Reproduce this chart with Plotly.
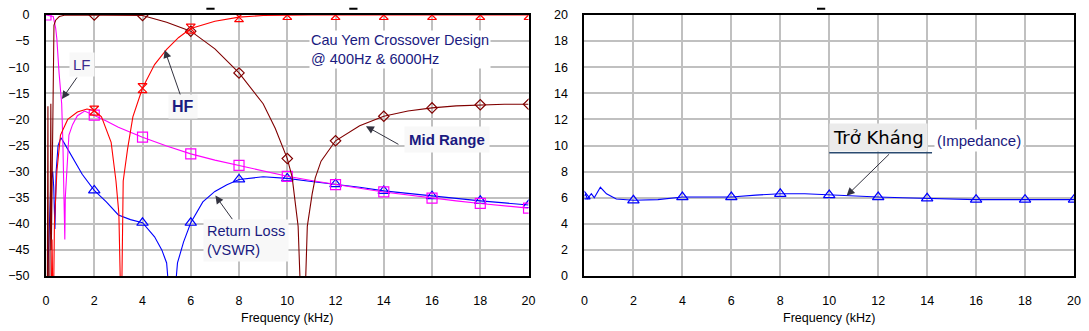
import plotly.graph_objects as go

# ---------------- data ----------------
# Left panel: crossover transfer (dB) vs frequency (kHz)
HF_f = [0, 0.2, 0.25, 0.28, 0.3, 0.35, 0.45, 0.6, 0.9, 1.3, 1.7, 2, 2.3, 2.7, 2.9, 3.02, 3.12,
        3.2, 3.38, 3.6, 4, 4.5, 5, 5.5, 6, 7, 8, 9, 10, 11, 12, 13, 14, 15, 16, 17, 18, 19, 20]
HF_db = [-60, -60, -43, -55, -60, -40, -30, -23, -20, -18.6, -18, -18.3, -19.5, -24.4, -31.8, -38, -60,
         -31.8, -25.7, -19.5, -14, -9.5, -6.6, -4.3, -2.6, -1.2, -0.4, -0.1, 0, 0, 0, 0, 0, 0, 0, 0, 0, 0, 0]

MID_f = [0, 0.05, 0.08, 0.1, 0.15, 0.2, 0.22, 0.26, 0.3, 0.33, 0.4, 0.55, 0.8, 1, 2, 3, 4, 5, 6, 7, 8,
         9, 9.5, 10, 10.2, 10.45, 10.6, 10.7, 10.83, 11.03, 11.16, 11.4, 12, 13, 14, 15, 16, 17, 18, 19, 20]
MID_db = [-60, -60, -17.5, -60, -60, -17, -45, -25, -10, -2, -1, -0.3, 0, 0, 0, 0, -0.1, -1.4, -3.1, -6.5, -11.1,
          -17, -21.7, -27.5, -31, -40.5, -60, -60, -40.5, -34.3, -31.2, -28, -24.1, -21.2, -19.4, -18.4, -17.8,
          -17.4, -17.2, -17.1, -17.1]

LF_f = [0, 0.3, 0.4, 0.45, 0.54, 0.65, 0.7, 0.75, 0.78, 0.8, 0.85, 0.9, 0.92, 0.95, 1.1, 1.3, 1.6, 2, 2.5, 3,
        4, 5, 6, 7, 8, 9, 10, 11, 12, 13, 14, 15, 16, 17, 18, 19, 20]
LF_db = [0, -0.3, -2.5, -4.6, -11, -17, -24.5, -33, -43, -35, -30, -27, -25, -23, -21, -19.3, -18.4, -19.2,
         -20.3, -21.5, -23.4, -25.1, -26.6, -27.8, -28.8, -29.9, -30.9, -31.7, -32.5, -33.2, -33.9, -34.5,
         -35.1, -35.6, -36.1, -36.5, -37]

RL_f = [0, 0.1, 0.15, 0.2, 0.28, 0.32, 0.37, 0.42, 0.5, 0.62, 0.75, 1, 1.2, 1.5, 2, 2.5, 3, 3.5, 4, 4.5,
        4.8, 5, 5.22, 5.45, 5.7, 6, 6.5, 7, 7.5, 8, 9, 10, 11, 12, 13, 14, 15, 16, 17, 18, 19, 20]
RL_db = [-60, -43.5, -36, -32, -30, -33, -41, -30, -25, -23.5, -24.5, -26.5, -28.3, -30.5, -33.6, -35.8,
         -38.3, -39.2, -39.8, -42.5, -45, -47.5, -60, -47.5, -43.5, -39.8, -35.8, -33.8, -32.5, -31.5, -31,
         -31.3, -31.9, -32.4, -33, -33.7, -34.2, -34.7, -35.2, -35.6, -36, -36.4]

# Right panel: impedance (ohm) vs frequency (kHz)
Z_f = [0, 0.04, 0.12, 0.2, 0.28, 0.4, 0.65, 0.9, 1.3, 2, 3, 4, 5, 6, 7, 8, 9, 10, 11, 12, 13, 14, 16, 18, 20]
Z_ohm = [6.1, 6.3, 5.9, 6.1, 6.3, 6.0, 6.8, 6.3, 5.9, 5.8, 5.85, 6.05, 6.05, 6.05, 6.2, 6.3, 6.3, 6.2, 6.1,
         6.05, 6.0, 5.95, 5.85, 5.85, 5.85]

X_TICKS = list(range(0, 21, 2))
Y1_TICKS = list(range(-50, 1, 5))
Y2_TICKS = list(range(0, 21, 2))

FONT = "Arial, Liberation Sans, sans-serif"
NAVY = "#1a1a80"

fig = go.Figure()


def add_series(f, v, color, symbol, msize, xa, ya):
    fig.add_trace(go.Scatter(x=f, y=v, mode="lines", line=dict(color=color, width=1.1),
                             xaxis=xa, yaxis=ya, showlegend=False, hoverinfo="skip"))
    mf = [a for a in f if a % 2 == 0]
    mv = [b for a, b in zip(f, v) if a % 2 == 0]
    fig.add_trace(go.Scatter(x=mf, y=mv, mode="markers",
                             marker=dict(symbol=symbol, size=msize, color=color,
                                         line=dict(color=color, width=1.2)),
                             xaxis=xa, yaxis=ya, showlegend=False, hoverinfo="skip"))


add_series(RL_f, RL_db, "#0000ff", "triangle-up-open", 10, "x", "y")
add_series(LF_f, LF_db, "#ff00ff", "square-open", 10, "x", "y")
add_series(MID_f, MID_db, "#800000", "diamond-open", 8, "x", "y")
add_series(HF_f, HF_db, "#ff0000", "hourglass-open", 9, "x", "y")
add_series(Z_f, Z_ohm, "#0000ff", "triangle-up-open", 10, "x2", "y2")

axis_common = dict(showgrid=True, gridcolor="#c0c0c0", gridwidth=1.5, zeroline=False,
                   showline=True, linecolor="black", linewidth=2, mirror=True,
                   ticks="", tickfont=dict(family=FONT, size=12.5, color="black"))

fig.update_layout(
    width=1089, height=331,
    margin=dict(l=45, r=13, t=8, b=53),
    paper_bgcolor="white", plot_bgcolor="white",
    font=dict(family=FONT, color="black"),
    xaxis=dict(domain=[0, 0.4694], range=[0, 20], tickvals=X_TICKS, ticklabelstandoff=12,
               title=dict(text="Frequency (kHz)", font=dict(size=12.5), standoff=6), **axis_common),
    yaxis=dict(range=[-50, 0], tickvals=Y1_TICKS, ticklabelstandoff=12, **axis_common),
    xaxis2=dict(domain=[0.5238, 1], range=[0, 20], tickvals=X_TICKS, ticklabelstandoff=12, anchor="y2",
                title=dict(text="Frequency (kHz)", font=dict(size=12.5), standoff=6), **axis_common),
    yaxis2=dict(range=[0, 20], tickvals=Y2_TICKS, ticklabelstandoff=12, anchor="x2", **axis_common),
)

ARROW = dict(showarrow=True, arrowhead=2, arrowsize=1.6, arrowwidth=1, arrowcolor="#333340", text="")

annotations = [
    # labels
    dict(x=10.9, y=-6.6, xref="x", yref="y", xanchor="left", yanchor="middle", showarrow=False,
         text="Cau Yem Crossover Design<br>@ 400Hz & 6000Hz", align="left",
         font=dict(family=FONT, size=14.5, color=NAVY), bgcolor="white"),
    dict(x=1.51, y=-9.4, xref="x", yref="y", showarrow=False, text="LF",
         font=dict(family=FONT, size=15, color="#3d2b8e"), bgcolor="#f8f8f8", borderpad=3),
    dict(x=5.68, y=-17.6, xref="x", yref="y", showarrow=False, text="<b>HF</b>",
         font=dict(family=FONT, size=16, color=NAVY), bgcolor="#f8f8f8", borderpad=3),
    dict(x=16.6, y=-23.8, xref="x", yref="y", showarrow=False, text="<b>Mid Range</b>",
         font=dict(family=FONT, size=15, color=NAVY), bgcolor="#f8f8f8", borderpad=4),
    dict(x=6.5, y=-43.2, xref="x", yref="y", xanchor="left", yanchor="middle", showarrow=False,
         text="Return Loss<br>(VSWR)", align="left",
         font=dict(family=FONT, size=14.5, color=NAVY), bgcolor="#f8f8f8", borderpad=3),
    dict(x=12.02, y=10.6, xref="x2", yref="y2", showarrow=False, text="Trở Kháng",
         font=dict(family="DejaVu Sans", size=18, color="black"), bgcolor="#ebebeb", borderpad=3),
    dict(x=16.11, y=10.37, xref="x2", yref="y2", showarrow=False, text="(Impedance)",
         font=dict(family=FONT, size=15, color=NAVY), bgcolor="white", borderpad=2),
    # arrows
    dict(x=0.66, y=-16.1, xref="x", yref="y", ax=16, ay=-23, **ARROW),
    dict(x=4.92, y=-6.7, xref="x", yref="y", ax=16, ay=46, **ARROW),
    dict(x=13.26, y=-21.3, xref="x", yref="y", ax=34, ay=19, **ARROW),
    dict(x=7.02, y=-34.6, xref="x", yref="y", ax=18, ay=25, **ARROW),
    dict(x=10.71, y=6.15, xref="x2", yref="y2", ax=44, ay=-43, **ARROW),
]
fig.update_layout(annotations=annotations)

# underline of the "Trở Kháng" label and clipped title fragments at the top
fig.add_shape(type="line", xref="x2", yref="y2", x0=10.0, x1=14.2, y0=9.45, y1=9.45,
              line=dict(color="#2a4a70", width=1.5))
for x0 in (0.156, 0.295, 0.750):
    fig.add_shape(type="line", xref="paper", yref="paper", x0=x0, x1=x0 + 0.008,
                  y0=1.024, y1=1.024, line=dict(color="black", width=2))

fig.write_html("out.html")
